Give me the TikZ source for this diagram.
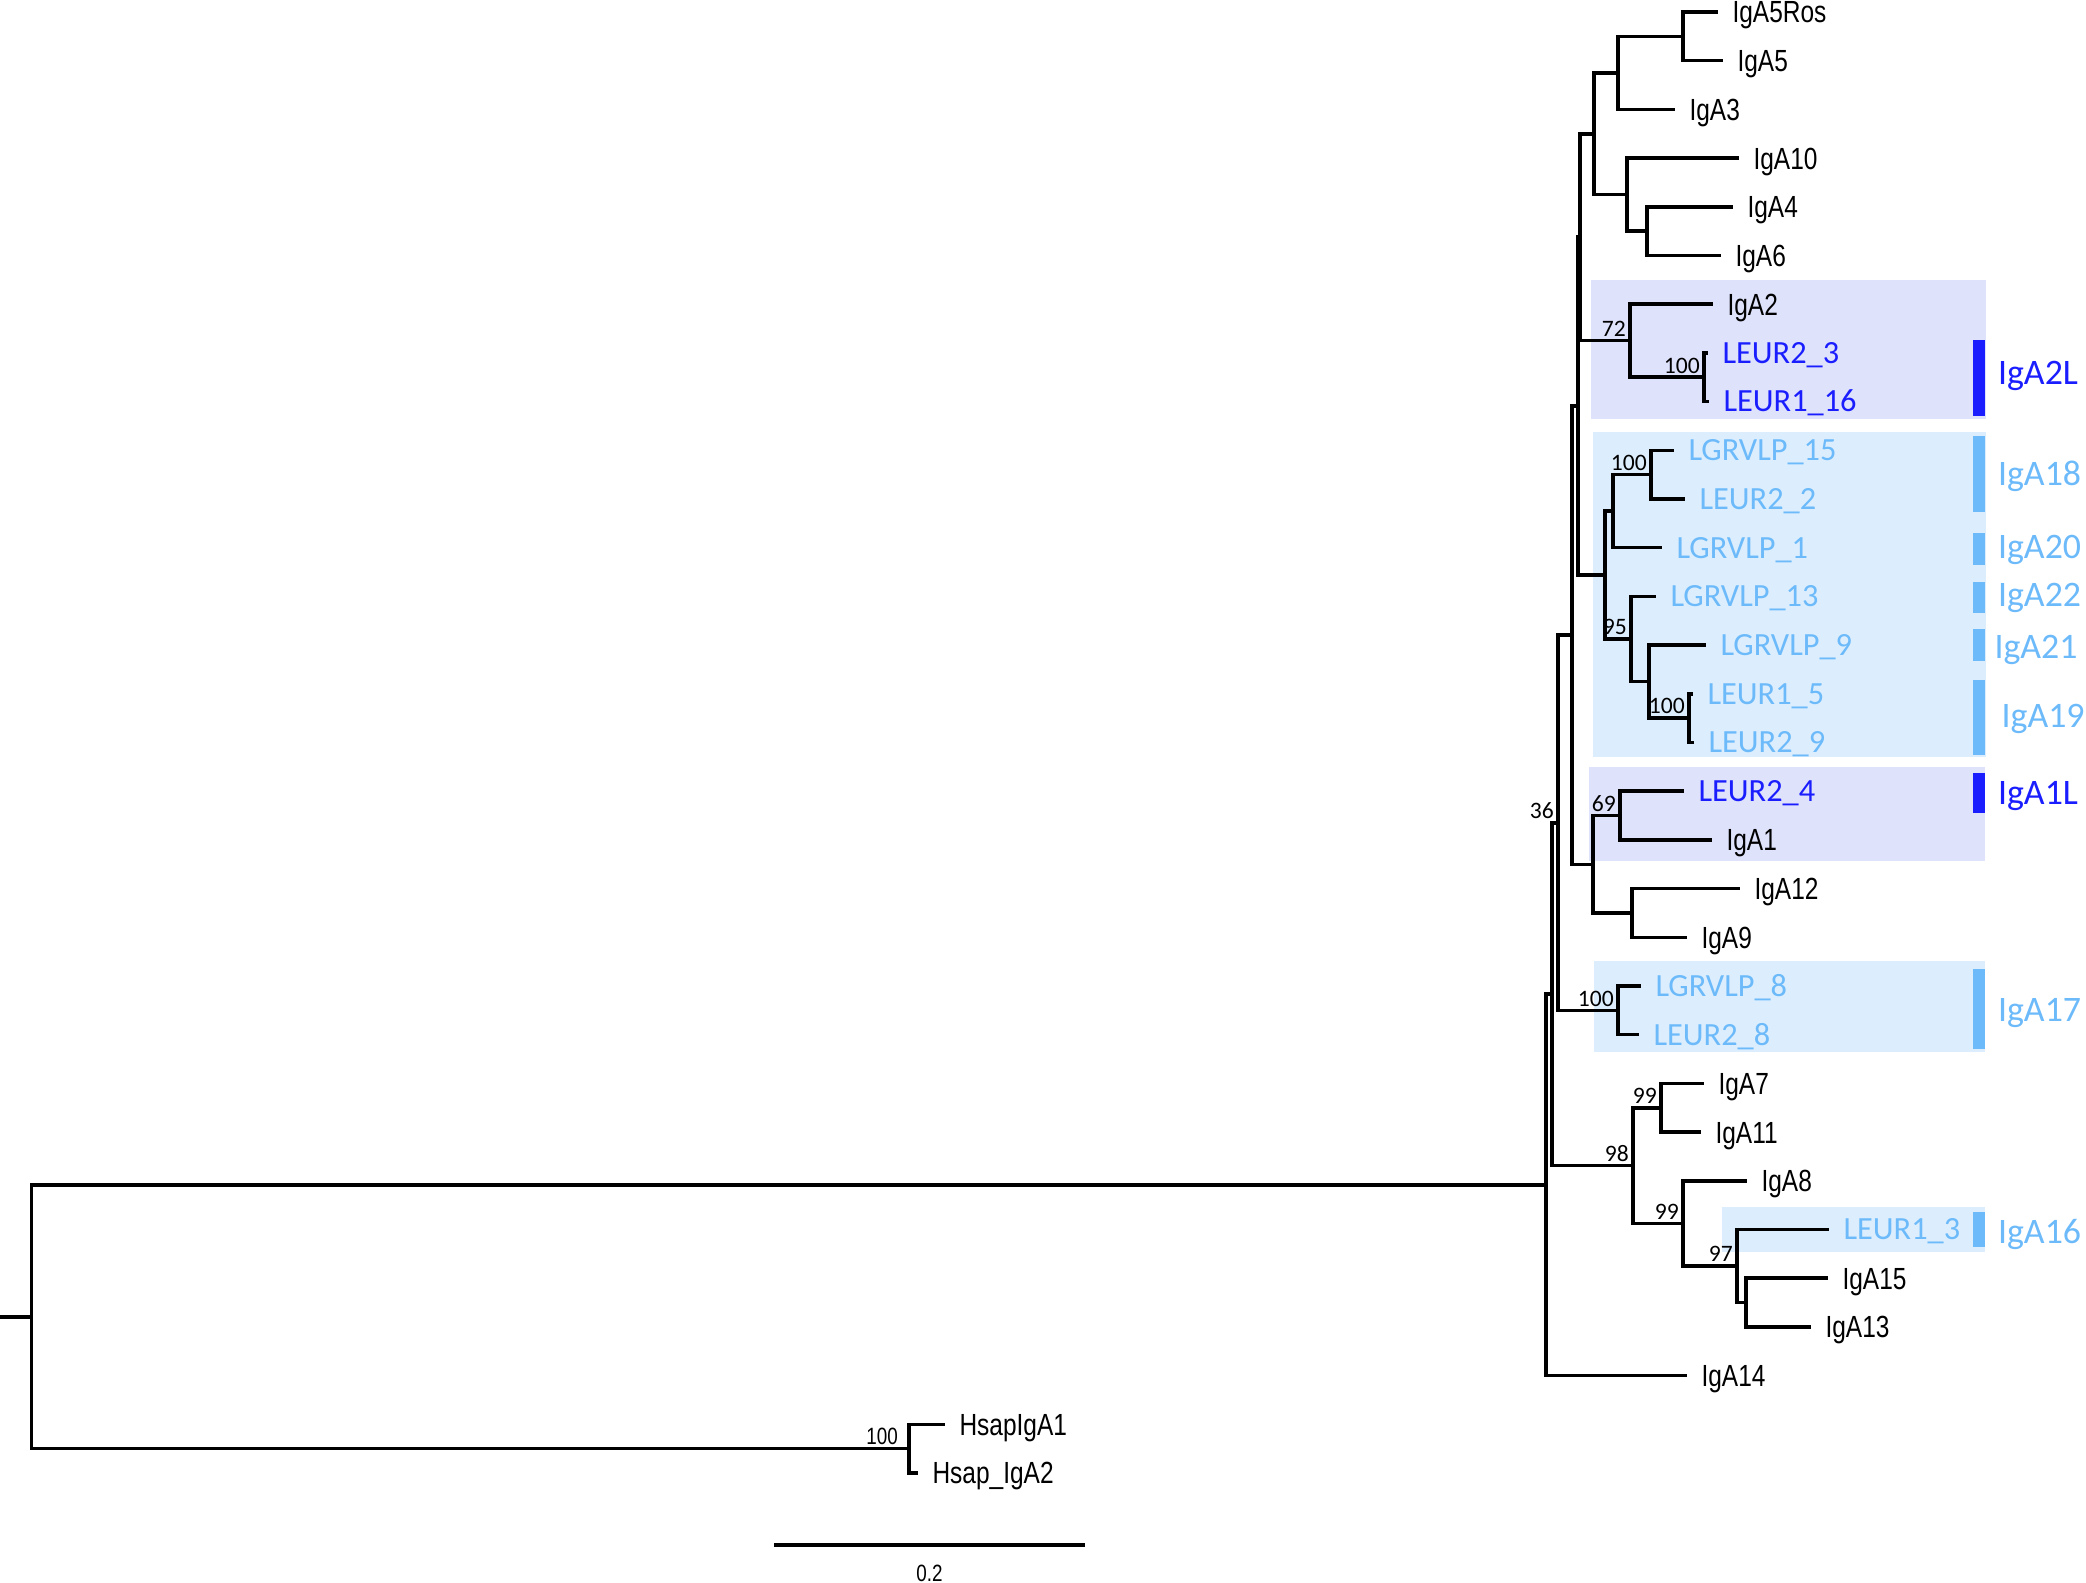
\documentclass[tikz,border=0pt]{standalone}
\usepackage{fontspec}
\newfontfamily\narrowfont[FakeStretch=0.8]{Liberation Sans}
\newfontfamily\calibrifont{Carlito}
\usepackage{tikz}
\definecolor{darkblue}{RGB}{26,30,255}
\definecolor{lightblue}{RGB}{108,186,250}
\definecolor{lightbox}{RGB}{220,238,254}
\definecolor{lavbox}{RGB}{222,226,251}
\tikzset{
  branch/.style={line width=1pt, line cap=rect},
  leaf/.style={anchor=west, inner xsep=4.5pt, inner ysep=0pt, font=\narrowfont\fontsize{8.7}{9}\selectfont, text height=6.2pt, text depth=0pt},
  cleaf/.style={leaf, font=\calibrifont\fontsize{9.2}{10}\selectfont, text height=5.9pt, text=lightblue},
  dleaf/.style={cleaf, text=darkblue},
  boot/.style={anchor=south east, inner sep=1pt, font=\calibrifont\fontsize{6.7}{7}\selectfont, text height=4.3pt, text depth=0pt},
  hboot/.style={boot, xshift=-2pt, font=\narrowfont\fontsize{6.7}{7}\selectfont, text height=4.8pt},
  grp/.style={anchor=west, inner xsep=3.5pt, inner ysep=0pt, font=\calibrifont\fontsize{10.2}{11}\selectfont, text height=6.6pt, text depth=0pt, text=lightblue},
  scalelab/.style={font=\narrowfont\fontsize{6.7}{7}\selectfont}
}

\begin{document}
\begin{tikzpicture}[x=0.01cm, y=-0.01cm]
\useasboundingbox (0,0) rectangle (2086,1582);
\fill[lavbox] (1591,280) rectangle (1986,419);
\fill[lightbox] (1593,432) rectangle (1986,757);
\fill[lavbox] (1589,767) rectangle (1985,861);
\fill[lightbox] (1594,961) rectangle (1985,1052);
\fill[lightbox] (1722,1207) rectangle (1985,1252);
\coordinate (stub) at (0,1316.8);
\coordinate (root) at (31.5,1316.8);
\coordinate (hsap) at (909,1448.65);
\coordinate (nA) at (1546,1184.9);
\coordinate (nB) at (1552,994.2);
\coordinate (nC) at (1558,822.8);
\coordinate (nD) at (1572,635.2);
\coordinate (nG) at (1578,406.15);
\coordinate (nH) at (1580,237.2);
\coordinate (nI) at (1594,133.75);
\coordinate (nM) at (1618,72.9);
\coordinate (nJ) at (1683,36.35);
\coordinate (nK) at (1627,194.6);
\coordinate (nL) at (1647,231.15);
\coordinate (n72) at (1630,340.7);
\coordinate (n100a) at (1704,377.25);
\coordinate (nP) at (1605,575.1);
\coordinate (nQ) at (1613,511.2);
\coordinate (n100b) at (1651,474.65);
\coordinate (n95) at (1631,639);
\coordinate (nR) at (1649,681.6);
\coordinate (n100c) at (1689,718.15);
\coordinate (nE) at (1593,864.25);
\coordinate (n69) at (1620,815.55);
\coordinate (nF) at (1632,912.95);
\coordinate (n100d) at (1618,1010.35);
\coordinate (n98) at (1633,1165.6);
\coordinate (n99a) at (1661,1107.75);
\coordinate (n99b) at (1683,1223.4);
\coordinate (n97) at (1737,1266);
\coordinate (nS) at (1746,1302.55);
\node[leaf] (IgA5Ros) at (1716,12) {IgA5Ros};
\node[leaf] (IgA5) at (1721,60.7) {IgA5};
\node[leaf] (IgA3) at (1673,109.4) {IgA3};
\node[leaf] (IgA10) at (1737,158.1) {IgA10};
\node[leaf] (IgA4) at (1731,206.8) {IgA4};
\node[leaf] (IgA6) at (1719,255.5) {IgA6};
\node[leaf] (IgA2) at (1711,304.2) {IgA2};
\node[dleaf] (leur23) at (1706,352.9) {LEUR2\_3};
\node[dleaf] (leur116) at (1707,401.6) {LEUR1\_16};
\node[cleaf] (lgr15) at (1672,450.3) {LGRVLP\_15};
\node[cleaf] (leur22) at (1683,499) {LEUR2\_2};
\node[cleaf] (lgr1) at (1660,547.7) {LGRVLP\_1};
\node[cleaf] (lgr13) at (1654,596.4) {LGRVLP\_13};
\node[cleaf] (lgr9) at (1704,645.1) {LGRVLP\_9};
\node[cleaf] (leur15) at (1691,693.8) {LEUR1\_5};
\node[cleaf] (leur29) at (1692,742.5) {LEUR2\_9};
\node[dleaf] (leur24) at (1682,791.2) {LEUR2\_4};
\node[leaf] (IgA1) at (1710,839.9) {IgA1};
\node[leaf] (IgA12) at (1738,888.6) {IgA12};
\node[leaf] (IgA9) at (1685,937.3) {IgA9};
\node[cleaf] (lgr8) at (1639,986) {LGRVLP\_8};
\node[cleaf] (leur28) at (1637,1034.7) {LEUR2\_8};
\node[leaf] (IgA7) at (1702,1083.4) {IgA7};
\node[leaf] (IgA11) at (1699,1132.1) {IgA11};
\node[leaf] (IgA8) at (1745,1180.8) {IgA8};
\node[cleaf] (leur13) at (1827,1229.5) {LEUR1\_3};
\node[leaf] (IgA15) at (1826,1278.2) {IgA15};
\node[leaf] (IgA13) at (1809,1326.9) {IgA13};
\node[leaf] (IgA14) at (1685,1375.6) {IgA14};
\node[leaf] (hsap1) at (943,1424.3) {HsapIgA1};
\node[leaf] (hsap2) at (916,1473) {Hsap\_IgA2};
\draw[branch] (stub) -- (root);
\draw[branch] (root) |- (nA);
\draw[branch] (root) |- (hsap);
\draw[branch] (hsap) |- (hsap1.west);
\draw[branch] (hsap) |- (hsap2.west);
\draw[branch] (nA) |- (nB);
\draw[branch] (nA) |- (IgA14.west);
\draw[branch] (nB) |- (nC);
\draw[branch] (nB) |- (n98);
\draw[branch] (nC) |- (nD);
\draw[branch] (nC) |- (n100d);
\draw[branch] (nD) |- (nG);
\draw[branch] (nD) |- (nE);
\draw[branch] (nG) |- (nH);
\draw[branch] (nG) |- (nP);
\draw[branch] (nH) |- (nI);
\draw[branch] (nH) |- (n72);
\draw[branch] (nI) |- (nM);
\draw[branch] (nI) |- (nK);
\draw[branch] (nM) |- (nJ);
\draw[branch] (nM) |- (IgA3.west);
\draw[branch] (nJ) |- (IgA5Ros.west);
\draw[branch] (nJ) |- (IgA5.west);
\draw[branch] (nK) |- (IgA10.west);
\draw[branch] (nK) |- (nL);
\draw[branch] (nL) |- (IgA4.west);
\draw[branch] (nL) |- (IgA6.west);
\draw[branch] (n72) |- (IgA2.west);
\draw[branch] (n72) |- (n100a);
\draw[branch] (n100a) |- (leur23.west);
\draw[branch] (n100a) |- (leur116.west);
\draw[branch] (nP) |- (nQ);
\draw[branch] (nP) |- (n95);
\draw[branch] (nQ) |- (n100b);
\draw[branch] (nQ) |- (lgr1.west);
\draw[branch] (n100b) |- (lgr15.west);
\draw[branch] (n100b) |- (leur22.west);
\draw[branch] (n95) |- (lgr13.west);
\draw[branch] (n95) |- (nR);
\draw[branch] (nR) |- (lgr9.west);
\draw[branch] (nR) |- (n100c);
\draw[branch] (n100c) |- (leur15.west);
\draw[branch] (n100c) |- (leur29.west);
\draw[branch] (nE) |- (n69);
\draw[branch] (nE) |- (nF);
\draw[branch] (n69) |- (leur24.west);
\draw[branch] (n69) |- (IgA1.west);
\draw[branch] (nF) |- (IgA12.west);
\draw[branch] (nF) |- (IgA9.west);
\draw[branch] (n100d) |- (lgr8.west);
\draw[branch] (n100d) |- (leur28.west);
\draw[branch] (n98) |- (n99a);
\draw[branch] (n98) |- (n99b);
\draw[branch] (n99a) |- (IgA7.west);
\draw[branch] (n99a) |- (IgA11.west);
\draw[branch] (n99b) |- (IgA8.west);
\draw[branch] (n99b) |- (n97);
\draw[branch] (n97) |- (leur13.west);
\draw[branch] (n97) |- (nS);
\draw[branch] (nS) |- (IgA15.west);
\draw[branch] (nS) |- (IgA13.west);
\node[boot] (b72) at (n72) {72};
\node[boot] (b100a) at (n100a) {100};
\node[boot] (b100b) at (n100b) {100};
\node[boot] (b95) at (n95) {95};
\node[boot] (b100c) at (n100c) {100};
\node[boot] (b69) at (n69) {69};
\node[boot] (b36) at (nC) {36};
\node[boot] (b100d) at (n100d) {100};
\node[boot] (b98) at (n98) {98};
\node[boot] (b99a) at (n99a) {99};
\node[boot] (b99b) at (n99b) {99};
\node[boot] (b97) at (n97) {97};
\node[hboot] (bhsap) at (hsap) {100};
\fill[darkblue] (1973,340) rectangle (1985,416);
\node[grp, text=darkblue] (gA2L) at (1985,373) {IgA2L};
\fill[lightblue] (1973,436) rectangle (1985,512);
\node[grp] (gA18) at (1985,474) {IgA18};
\fill[lightblue] (1973,533) rectangle (1985,565);
\node[grp] (gA20) at (1985,547) {IgA20};
\fill[lightblue] (1973,582) rectangle (1985,613);
\node[grp] (gA22) at (1985,595) {IgA22};
\fill[lightblue] (1973,629) rectangle (1985,661);
\node[grp, xshift=-1pt] (gA21) at (1985,647) {IgA21};
\fill[lightblue] (1973,680) rectangle (1985,755);
\node[grp, xshift=1pt] (gA19) at (1985,716) {IgA19};
\fill[darkblue] (1973,773) rectangle (1985,813);
\node[grp, text=darkblue] (gA1L) at (1985,793) {IgA1L};
\fill[lightblue] (1973,969) rectangle (1985,1049);
\node[grp] (gA17) at (1985,1010) {IgA17};
\fill[lightblue] (1973,1212) rectangle (1985,1247);
\node[grp] (gA16) at (1985,1232) {IgA16};
\coordinate (sbL) at (776,1545);
\coordinate (sbR) at (1083,1545);
\draw[branch] (sbL) -- (sbR);
\node[scalelab] (sbtext) at (929.5,1573) {0.2};
\end{tikzpicture}
\end{document}
